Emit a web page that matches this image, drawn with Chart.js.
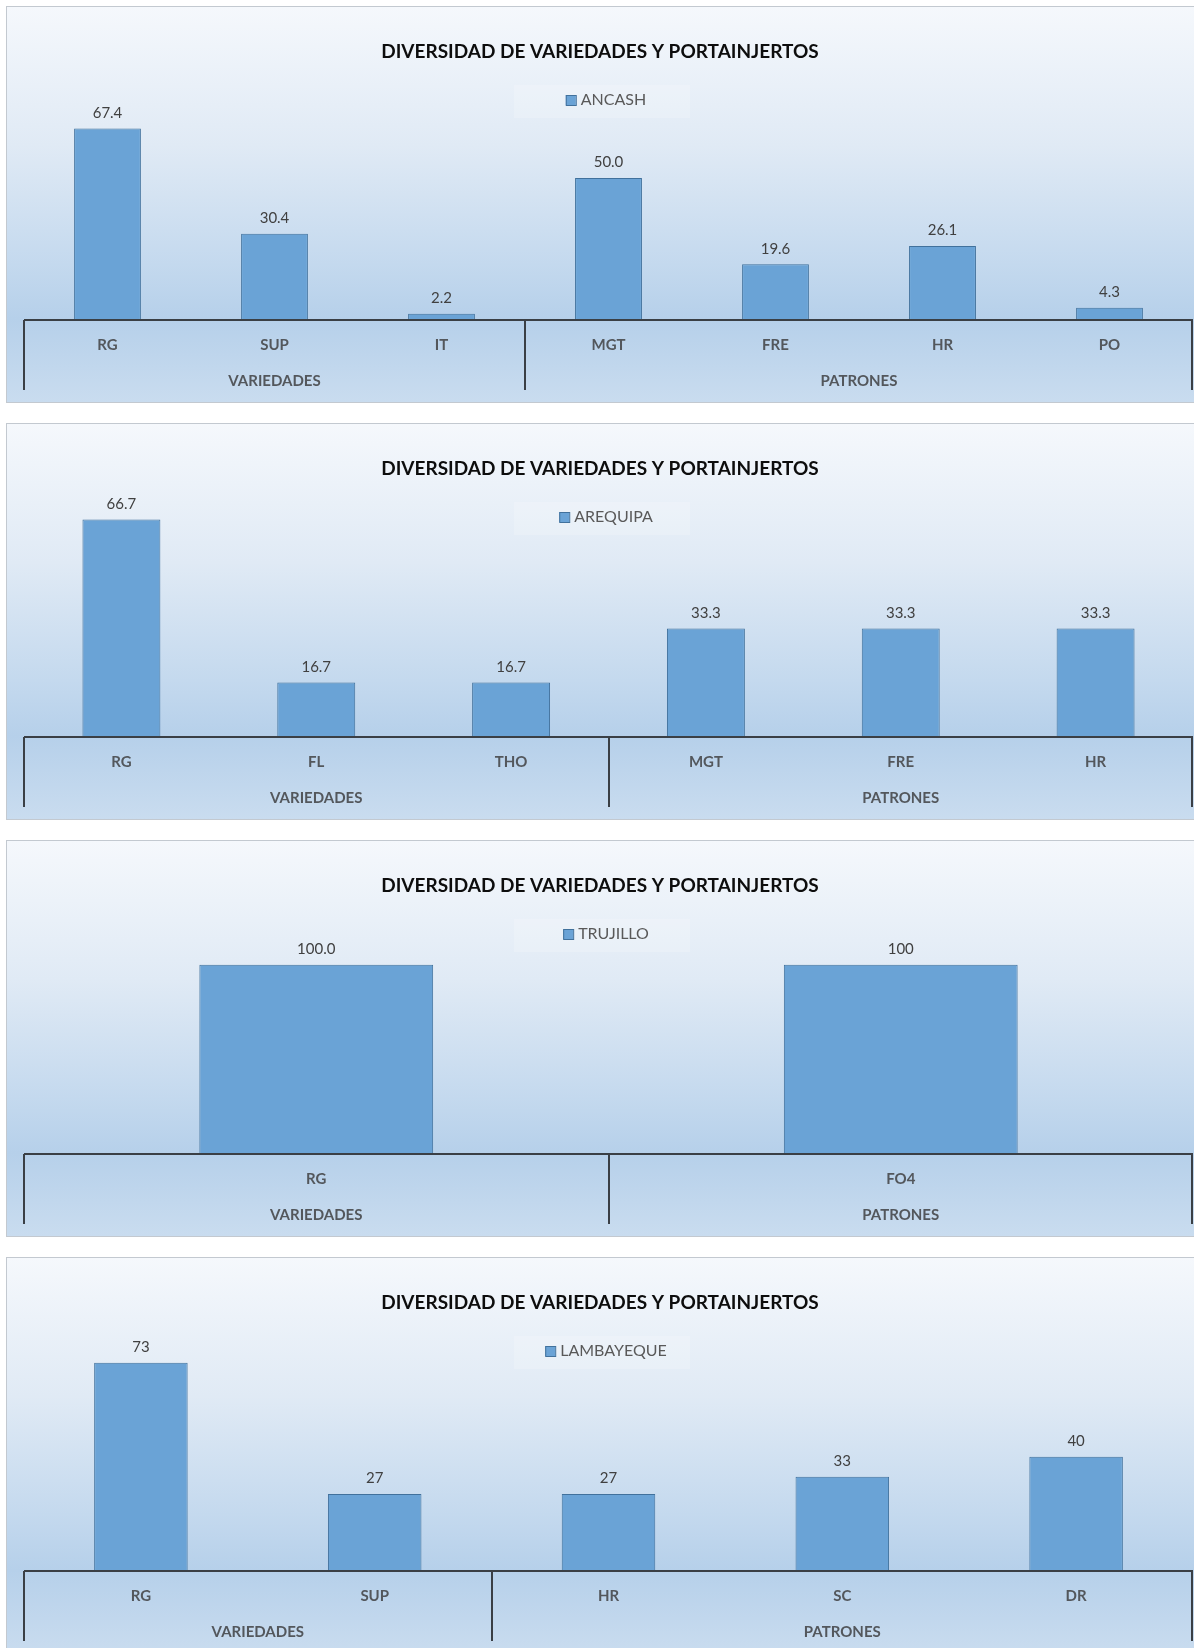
<!DOCTYPE html>
<html>
<head>
<meta charset="utf-8">
<script src="https://cdn.jsdelivr.net/npm/chart.js@4.4.1/dist/chart.umd.min.js"></script>
<style>
    body { margin: 0; background: #fff; width: 1194px; height: 1648px; overflow: hidden; position: relative; }
    .panel {
        position: absolute; left: 6px; width: 1200px; height: 397px; box-sizing: border-box;
        border: 1px solid #c3c9d0;
        background: linear-gradient(to bottom, #f5f8fc 0%, #e0eaf5 35%, #c4d9ee 65%, #b6d0ea 79%, #c9dcef 100%);
    }
    canvas { position: absolute; left: 0; }
</style>
</head>
<body>
<div class="panel" style="top:6px"></div>
<canvas id="chAncash" width="1194" height="397" style="top:6px"></canvas>
<div class="panel" style="top:423px"></div>
<canvas id="chArequipa" width="1194" height="397" style="top:423px"></canvas>
<div class="panel" style="top:840px"></div>
<canvas id="chTrujillo" width="1194" height="397" style="top:840px"></canvas>
<div class="panel" style="top:1257px"></div>
<canvas id="chLambayeque" width="1194" height="397" style="top:1257px"></canvas>

<script>
const titulo = 'DIVERSIDAD DE VARIEDADES Y PORTAINJERTOS';
const grupos = ['VARIEDADES', 'PATRONES'];

// ANCASH
const catAncash = ['RG', 'SUP', 'IT', 'MGT', 'FRE', 'HR', 'PO'];
const valAncash = [67.4, 30.4, 2.2, 50.0, 19.6, 26.1, 4.3];
const nGrupoAncash = [3, 4];
const decAncash = [1, 1, 1, 1, 1, 1, 1];

// AREQUIPA
const catArequipa = ['RG', 'FL', 'THO', 'MGT', 'FRE', 'HR'];
const valArequipa = [66.7, 16.7, 16.7, 33.3, 33.3, 33.3];
const nGrupoArequipa = [3, 3];
const decArequipa = [1, 1, 1, 1, 1, 1];

// TRUJILLO
const catTrujillo = ['RG', 'FO4'];
const valTrujillo = [100, 100];
const nGrupoTrujillo = [1, 1];
const decTrujillo = [1, 0];

// LAMBAYEQUE
const catLambayeque = ['RG', 'SUP', 'HR', 'SC', 'DR'];
const valLambayeque = [73, 27, 27, 33, 40];
const nGrupoLambayeque = [2, 3];
const decLambayeque = [0, 0, 0, 0, 0];

const FUENTE = 'Lato, "Open Sans", sans-serif';

// titulo, leyenda, etiquetas de valor y eje de categorias en dos niveles
const ejeMultinivel = {
    id: 'ejeMultinivel',
    afterDatasetsDraw(chart, args, opts) {
        const ctx = chart.ctx;
        const area = chart.chartArea;
        const xs = chart.scales.x;
        const meta = chart.getDatasetMeta(0);
        const n = chart.data.labels.length;
        const paso = (area.right - area.left) / n;
        const cx = chart.width / 2;
        ctx.save();

        // titulo
        ctx.fillStyle = '#0d0d0d';
        ctx.font = 'bold 19px ' + FUENTE;
        ctx.textAlign = 'center';
        ctx.textBaseline = 'middle';
        ctx.fillText(titulo, cx + 3, 46);

        // leyenda
        ctx.fillStyle = 'rgba(255,255,255,0.18)';
        ctx.fillRect(514, 79, 176, 33);
        ctx.font = '16px ' + FUENTE;
        const txt = chart.data.datasets[0].label;
        const w = ctx.measureText(txt).width + 15;
        const x0 = 606 - w / 2;
        ctx.fillStyle = '#6aa3d6';
        ctx.strokeStyle = '#41719c';
        ctx.lineWidth = 1;
        ctx.fillRect(x0, 89, 10, 10);
        ctx.strokeRect(x0 + 0.5, 89.5, 10, 10);
        ctx.fillStyle = '#595959';
        ctx.textAlign = 'left';
        ctx.fillText(txt, x0 + 15, 94);

        // valores sobre las barras
        ctx.font = '15px ' + FUENTE;
        ctx.fillStyle = '#404040';
        ctx.textAlign = 'center';
        ctx.textBaseline = 'bottom';
        const vals = chart.data.datasets[0].data;
        meta.data.forEach((bar, i) => {
            ctx.fillText(vals[i].toFixed(opts.dec[i]), bar.x, bar.y - 8);
        });

        // eje
        const yEje = area.bottom;
        const yFin = yEje + 70;
        ctx.strokeStyle = '#3a3f45';
        ctx.lineWidth = 2;
        ctx.beginPath();
        ctx.moveTo(area.left, yEje);
        ctx.lineTo(area.right, yEje);
        ctx.stroke();

        ctx.font = 'bold 15px ' + FUENTE;
        ctx.fillStyle = '#53575c';
        ctx.textBaseline = 'middle';
        chart.data.labels.forEach((c, i) => {
            ctx.fillText(c, xs.getPixelForValue(i), yEje + 25);
        });

        let k = 0;
        const cortes = [area.left];
        opts.nGrupo.forEach((g, j) => {
            const a = area.left + k * paso;
            const b = area.left + (k + g) * paso;
            ctx.fillText(grupos[j], (a + b) / 2, yEje + 61);
            k += g;
            cortes.push(b);
        });
        ctx.beginPath();
        cortes.forEach(xc => {
            const xr = Math.min(Math.round(xc), chart.width - 2);
            ctx.moveTo(xr, yEje);
            ctx.lineTo(xr, yFin);
        });
        ctx.stroke();
        ctx.restore();
    }
};

function grafico(id, region, cats, vals, nGrupo, dec, yMax) {
    return new Chart(document.getElementById(id), {
        type: 'bar',
        data: {
            labels: cats,
            datasets: [{
                label: region,
                data: vals,
                backgroundColor: '#6aa3d6',
                borderColor: '#41719c',
                borderWidth: 1,
                barPercentage: 0.4,
                categoryPercentage: 1
            }]
        },
        options: {
            responsive: false,
            animation: false,
            layout: { padding: { left: 24, right: 1, top: 80, bottom: 83 } },
            scales: {
                x: { display: false },
                y: { display: false, min: 0, max: yMax }
            },
            plugins: {
                legend: { display: false },
                title: { display: false },
                tooltip: { enabled: false },
                ejeMultinivel: { nGrupo: nGrupo, dec: dec }
            }
        },
        plugins: [ejeMultinivel]
    });
}

grafico('chAncash', 'ANCASH', catAncash, valAncash, nGrupoAncash, decAncash, 82.4);
grafico('chArequipa', 'AREQUIPA', catArequipa, valArequipa, nGrupoArequipa, decArequipa, 71.8);
grafico('chTrujillo', 'TRUJILLO', catTrujillo, valTrujillo, nGrupoTrujillo, decTrujillo, 123.7);
grafico('chLambayeque', 'LAMBAYEQUE', catLambayeque, valLambayeque, nGrupoLambayeque, decLambayeque, 82.0);
</script>
</body>
</html>
